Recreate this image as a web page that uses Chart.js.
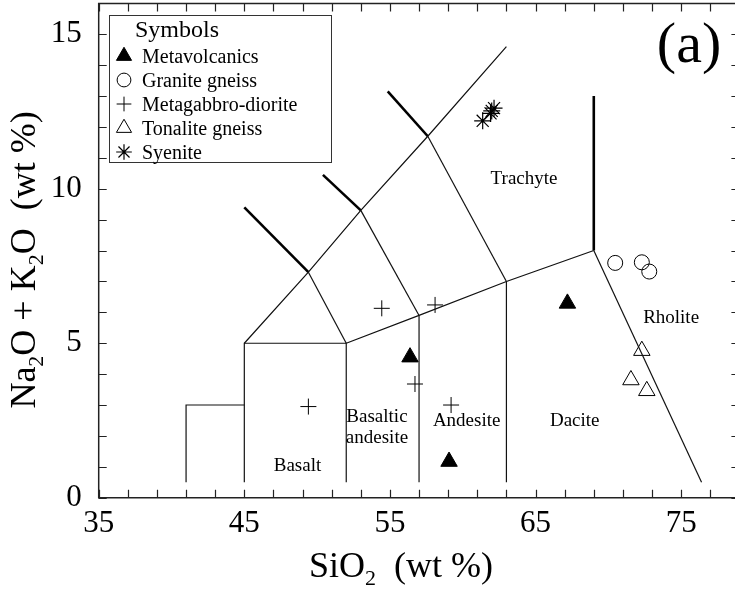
<!DOCTYPE html>
<html>
<head>
<meta charset="utf-8">
<script src="https://cdn.jsdelivr.net/npm/chart.js@4.4.1/dist/chart.umd.min.js"></script>
<style>
  html, body { margin: 0; padding: 0; background: #fff; overflow: hidden; }
  #wrap { width: 735px; height: 591px; overflow: hidden; position: relative; }
  canvas { display: block; }
</style>
</head>
<body>
<div id="wrap"><canvas id="tas" width="745" height="591"></canvas></div>
<script>
// ---- Sample analyses (SiO2 wt %, Na2O + K2O wt %) ----
const metavolcanicsSiO2 = [56.38, 59.06, 67.19];
const metavolcanicsAlk  = [4.55, 1.17, 6.29];

const graniteSiO2 = [70.47, 72.30, 72.81];
const graniteAlk  = [7.60, 7.62, 7.32];

const gabbroDioriteSiO2 = [49.40, 54.44, 58.10, 56.72, 59.20];
const gabbroDioriteAlk  = [2.95, 6.13, 6.24, 3.68, 3.00];

const tonaliteSiO2 = [72.30, 71.55, 72.64];
const tonaliteAlk  = [4.76, 3.81, 3.46];

const syeniteSiO2 = [61.37, 61.91, 61.99, 62.15];
const syeniteAlk  = [12.20, 12.44, 12.52, 12.61];

// ---- TAS field boundaries, [SiO2, Na2O+K2O] vertices ----
const boundaryThin = [
  [[41, 0.5], [41, 3], [45, 3]],
  [[45, 0.5], [45, 5], [52, 5], [52, 0.5]],
  [[45, 5], [49.4, 7.3], [53, 9.3], [57.6, 11.7], [63, 14.6]],
  [[52, 5], [57, 5.9], [63, 7], [69, 8]],
  [[57, 0.5], [57, 5.9]],
  [[63, 0.5], [63, 7]],
  [[69, 8], [76.4, 0.5]],
  [[52, 5], [49.4, 7.3]],
  [[57, 5.9], [53, 9.3]],
  [[63, 7], [57.6, 11.7]]
];
const boundaryThick = [
  [[49.4, 7.3], [45, 9.4]],
  [[53, 9.3], [50.4, 10.45]],
  [[57.6, 11.7], [54.85, 13.15]],
  [[69, 8], [69, 13]]
];

// ---- Field names ----
const fieldNames = ['Trachyte', 'Rholite', 'Dacite', 'Andesite', 'Basaltic', 'andesite', 'Basalt'];
const fieldSiO2  = [64.21, 74.31, 67.69, 60.27, 54.11, 54.11, 48.65];
const fieldAlk   = [10.16, 5.66, 2.32, 2.32, 2.46, 1.76, 0.86];

// ---- Axis ticks ----
const xMin = 35, xMax = 79, xStep = 2;
const xLabelValues = [35, 45, 55, 65, 75];
const yMin = 0, yMax = 16, yStep = 1;
const yLabelValues = [0, 5, 10, 15];

const seriesNames = ['Metavolcanics', 'Granite gneiss', 'Metagabbro-diorite', 'Tonalite gneiss', 'Syenite'];

const SERIF = '"Liberation Serif", "Times New Roman", serif';

function toPoints(xs, ys) { return xs.map((v, i) => ({ x: v, y: ys[i] })); }

const lineSets = [];
boundaryThin.forEach(seg => lineSets.push({
  data: seg.map(p => ({ x: p[0], y: p[1] })),
  showLine: true, borderColor: '#111', borderWidth: 1.2, pointRadius: 0,
  pointHoverRadius: 0, fill: false, tension: 0
}));
boundaryThick.forEach(seg => lineSets.push({
  data: seg.map(p => ({ x: p[0], y: p[1] })),
  showLine: true, borderColor: '#000', borderWidth: 2.6, pointRadius: 0,
  pointHoverRadius: 0, fill: false, tension: 0
}));

const sampleSets = [
  { label: seriesNames[0], data: toPoints(metavolcanicsSiO2, metavolcanicsAlk),
    pointStyle: 'triangle', pointRadius: 9.5, backgroundColor: '#000', borderColor: '#000', borderWidth: 1 },
  { label: seriesNames[1], data: toPoints(graniteSiO2, graniteAlk),
    pointStyle: 'circle', pointRadius: 7.5, backgroundColor: 'rgba(0,0,0,0)', borderColor: '#000', borderWidth: 1 },
  { label: seriesNames[2], data: toPoints(gabbroDioriteSiO2, gabbroDioriteAlk),
    pointStyle: 'cross', pointRadius: 8, backgroundColor: 'rgba(0,0,0,0)', borderColor: '#000', borderWidth: 1 },
  { label: seriesNames[3], data: toPoints(tonaliteSiO2, tonaliteAlk),
    pointStyle: 'triangle', pointRadius: 9.5, backgroundColor: 'rgba(0,0,0,0)', borderColor: '#000', borderWidth: 1 },
  { label: seriesNames[4], data: toPoints(syeniteSiO2, syeniteAlk),
    pointStyle: 'star', pointRadius: 8.5, backgroundColor: 'rgba(0,0,0,0)', borderColor: '#000', borderWidth: 1.2 }
];

// Draw a run of text pieces where some pieces are subscripts
function drawRich(ctx, parts, x, y, size) {
  const subSize = Math.round(size * 0.62);
  let w = 0;
  parts.forEach(p => {
    ctx.font = (p.sub ? subSize : size) + 'px ' + SERIF;
    p.w = ctx.measureText(p.t).width;
    w += p.w;
  });
  let cx = x - w / 2;
  ctx.textAlign = 'left';
  ctx.textBaseline = 'alphabetic';
  parts.forEach(p => {
    ctx.font = (p.sub ? subSize : size) + 'px ' + SERIF;
    ctx.fillText(p.t, cx, p.sub ? y + size * 0.22 : y);
    cx += p.w;
  });
}

const decorations = {
  id: 'decorations',
  afterDatasetsDraw(chart) {
    const { ctx, chartArea: a, scales } = chart;
    const xs = scales.x, ys = scales.y;
    ctx.save();
    ctx.fillStyle = '#000';
    ctx.strokeStyle = '#222';

    // frame and inward tick marks
    ctx.lineWidth = 1.5;
    ctx.beginPath();
    ctx.moveTo(a.left, a.top); ctx.lineTo(a.left, a.bottom); ctx.lineTo(a.right, a.bottom);
    ctx.lineTo(a.right, a.top); ctx.closePath();
    ctx.stroke();
    ctx.lineWidth = 1.2;
    const tl = 8;
    ctx.beginPath();
    xs.ticks.forEach(t => {
      const px = Math.round(xs.getPixelForValue(t.value)) + 0.5;
      ctx.moveTo(px, a.bottom); ctx.lineTo(px, a.bottom - tl);
      ctx.moveTo(px, a.top); ctx.lineTo(px, a.top + tl);
    });
    ys.ticks.forEach(t => {
      const py = Math.round(ys.getPixelForValue(t.value)) + 0.5;
      ctx.moveTo(a.left, py); ctx.lineTo(a.left + tl, py);
      ctx.moveTo(a.right, py); ctx.lineTo(a.right - tl, py);
    });
    ctx.stroke();

    // field names
    ctx.font = '19px ' + SERIF;
    ctx.textAlign = 'center';
    ctx.textBaseline = 'alphabetic';
    fieldNames.forEach((n, i) => {
      ctx.fillText(n, xs.getPixelForValue(fieldSiO2[i]), ys.getPixelForValue(fieldAlk[i]));
    });

    // panel letter
    ctx.font = '58px ' + SERIF;
    ctx.fillText('(a)', xs.getPixelForValue(75.54), ys.getPixelForValue(14.11));

    // axis titles
    drawRich(ctx, [{ t: 'SiO' }, { t: '2', sub: true }, { t: '  (wt %)' }], 401, 577, 36);
    ctx.save();
    ctx.translate(35, 260);
    ctx.rotate(-Math.PI / 2);
    drawRich(ctx, [{ t: 'Na' }, { t: '2', sub: true }, { t: 'O + K' }, { t: '2', sub: true }, { t: 'O  (wt %)' }], 0, 0, 36);
    ctx.restore();

    // symbol key
    ctx.lineWidth = 1;
    ctx.strokeStyle = '#333';
    ctx.fillStyle = '#fff';
    ctx.fillRect(109.5, 15.5, 222, 147);
    ctx.strokeRect(109.5, 15.5, 222, 147);
    ctx.fillStyle = '#000';
    ctx.textAlign = 'left';
    ctx.font = '24px ' + SERIF;
    ctx.fillText('Symbols', 135, 37);
    ctx.font = '20px ' + SERIF;
    sampleSets.forEach((ds, i) => {
      const base = 63 + i * 24;
      ctx.fillStyle = '#000';
      ctx.fillText(ds.label, 142, base);
      ctx.strokeStyle = ds.borderColor;
      ctx.fillStyle = ds.backgroundColor;
      ctx.lineWidth = ds.borderWidth;
      Chart.helpers.drawPoint(ctx, { pointStyle: ds.pointStyle, radius: ds.pointRadius * 0.92, rotation: 0, borderWidth: ds.borderWidth },
        124, base - 7);
    });
    ctx.restore();
  }
};

new Chart(document.getElementById('tas'), {
  type: 'scatter',
  data: { datasets: [...lineSets, ...sampleSets] },
  options: {
    responsive: false,
    animation: false,
    events: [],
    layout: { autoPadding: false, padding: { top: 3.4, right: 5.6, left: 0, bottom: 0 } },
    plugins: { legend: { display: false }, tooltip: { enabled: false } },
    scales: {
      x: {
        type: 'linear', min: xMin, max: xMax,
        afterFit(s) { s.height = 93.3; s.paddingLeft = 0; s.paddingRight = 0; },
        afterBuildTicks(s) {
          s.ticks = [];
          for (let v = xMin; v <= xMax; v += xStep) s.ticks.push({ value: v });
        },
        grid: { display: false, drawTicks: false },
        border: { display: false },
        ticks: {
          autoSkip: false, maxRotation: 0, padding: 8, color: '#000',
          font: { family: SERIF, size: 31 },
          callback: v => (xLabelValues.includes(v) ? String(v) : '')
        }
      },
      y: {
        type: 'linear', min: yMin, max: yMax,
        afterFit(s) { s.width = 98.7; s.paddingTop = 0; s.paddingBottom = 0; },
        afterBuildTicks(s) {
          s.ticks = [];
          for (let v = yMin; v <= yMax; v += yStep) s.ticks.push({ value: v });
        },
        grid: { display: false, drawTicks: false },
        border: { display: false },
        ticks: {
          autoSkip: false, padding: 17, color: '#000',
          font: { family: SERIF, size: 31 },
          callback: v => (yLabelValues.includes(v) ? String(v) : '')
        }
      }
    }
  },
  plugins: [decorations]
});
</script>
</body>
</html>
